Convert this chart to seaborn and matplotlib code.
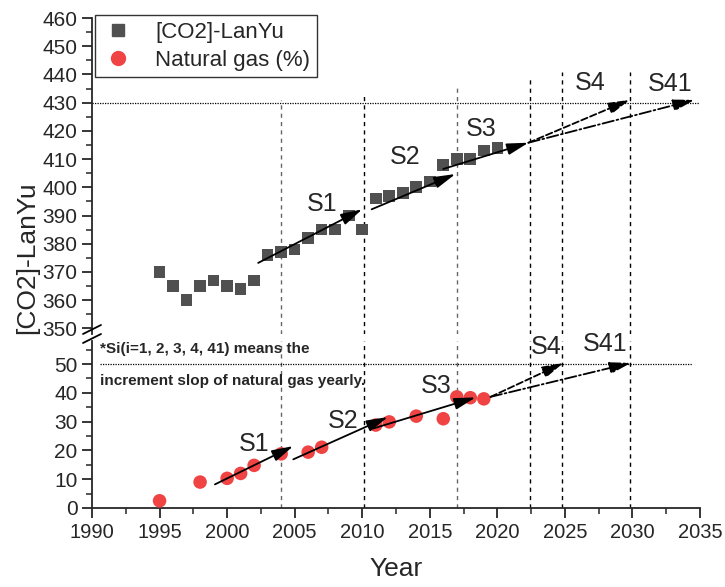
import matplotlib
matplotlib.use("Agg")
import matplotlib.pyplot as plt
from matplotlib.lines import Line2D
from matplotlib.ticker import MultipleLocator
import numpy as np
import pandas as pd
import seaborn as sns

# ── Data ─────────────────────────────────────────────────────
co2_years = [1995, 1996, 1997, 1998, 1999, 2000, 2001, 2002, 2003, 2004,
             2005, 2006, 2007, 2008, 2009, 2010, 2011, 2012, 2013, 2014,
             2015, 2016, 2017, 2018, 2019, 2020]
co2_vals = [370, 365, 360, 365, 367, 365, 364, 367, 376, 377,
            378, 382, 385, 385, 390, 385, 396, 397, 398, 400,
            402, 408, 410, 410, 413, 414]

gas_years = [1995, 1998, 2000, 2001, 2002, 2004, 2006, 2007, 2011, 2012,
             2014, 2016, 2017, 2018, 2019]
gas_vals = [2.5, 9.0, 10.3, 12.0, 14.8, 18.8, 19.4, 21.1, 28.8, 29.9,
            31.9, 31.0, 38.6, 38.3, 37.9]

# trend segments: (label, x0, y0, x1, y1, style)
co2_trends = [
    ("S1", 2002.3, 373.2, 2010.0, 392.2, "-"),
    ("S2", 2010.7, 392.2, 2016.9, 404.7, "-"),
    ("S3", 2016.0, 406.5, 2022.3, 415.8, "-"),
    ("S4", 2022.3, 415.8, 2029.8, 431.0, "--"),
    ("S41", 2022.3, 415.8, 2034.6, 431.0, "-."),
]
gas_trends = [
    ("S1", 1999.1, 8.2, 2004.9, 21.5, "-"),
    ("S2", 2004.9, 16.9, 2011.9, 31.6, "-"),
    ("S3", 2010.8, 27.6, 2018.4, 38.4, "-"),
    ("S4", 2019.5, 38.6, 2024.9, 50.4, "--"),
    ("S41", 2019.5, 38.6, 2029.9, 50.4, "-."),
]
co2_label_pos = [(2007.0, 394.0), (2013.2, 410.6), (2018.8, 420.6), (2026.9, 437.0), (2032.8, 436.6)]
gas_label_pos = [(2002.0, 22.2), (2008.6, 30.2), (2015.5, 42.4), (2023.6, 55.9), (2028.0, 57.0)]

vline_years = [2004, 2010.1, 2017, 2022.4, 2024.8, 2029.8]
vline_tops = [431, 432.7, 436.2, 438.7, 441, 441]
vline_colors = ["#666666", "black", "#666666", "black", "black", "black"]

co2_df = pd.DataFrame({"Year": co2_years, "val": co2_vals})
gas_df = pd.DataFrame({"Year": gas_years, "val": gas_vals})

# ── Style ────────────────────────────────────────────────────
sns.set_style("ticks")
plt.rcParams["font.family"] = ["Liberation Sans", "DejaVu Sans"]
plt.rcParams["xtick.direction"] = "out"
plt.rcParams["ytick.direction"] = "out"

SQ_COLOR = "#505050"
RED = "#f04444"

fig = plt.figure(figsize=(7.25, 5.87), dpi=100)
ax_top = fig.add_axes([0.1269, 0.431, 0.8386, 0.5383])
ax_bot = fig.add_axes([0.1269, 0.1346, 0.8386, 0.2845], sharex=ax_top)

sns.scatterplot(data=co2_df, x="Year", y="val", ax=ax_top, marker="s", s=70,
                color=SQ_COLOR, edgecolor="none", zorder=3)
sns.scatterplot(data=gas_df, x="Year", y="val", ax=ax_bot, marker="o", s=95,
                color=RED, edgecolor="none", zorder=3)

ax_top.set_ylim(348, 460)
ax_bot.set_ylim(0, 58)
ax_bot.set_xlim(1990, 2035)

# reference lines
for xv, top, c in zip(vline_years, vline_tops, vline_colors):
    ax_top.plot([xv, xv], [348, top], color=c, lw=1, ls=(0, (3, 3)), zorder=1)
    ax_bot.axvline(xv, color=c, lw=1, ls=(0, (3, 3)), zorder=1)
ax_top.plot([1990, 2035], [430, 430], color="black", lw=0.9, ls=(0, (1, 1)), zorder=1)
ax_bot.plot([1990.6, 2034.4], [50, 50], color="black", lw=0.9, ls=(0, (1, 1)), zorder=1)


def draw_trends(ax, trends, label_pos):
    for (lab, x0, y0, x1, y1, ls), (tx, ty) in zip(trends, label_pos):
        ax.annotate("", xy=(x1, y1), xytext=(x0, y0),
                    arrowprops=dict(arrowstyle="-|>,head_length=1.3,head_width=0.35",
                                    color="black", lw=1.3, linestyle=ls,
                                    shrinkA=0, shrinkB=0), zorder=4)
        ax.text(tx, ty, lab, fontsize=18, ha="center", va="center", zorder=5)


draw_trends(ax_top, co2_trends, co2_label_pos)
draw_trends(ax_bot, gas_trends, gas_label_pos)

# axes cosmetics
for sp in ["top", "right", "bottom"]:
    ax_top.spines[sp].set_visible(False)
for sp in ["top", "right"]:
    ax_bot.spines[sp].set_visible(False)
for ax in (ax_top, ax_bot):
    ax.spines["left"].set_linewidth(1.3)
    ax.set_facecolor("none")
ax_bot.spines["bottom"].set_linewidth(1.3)

ax_top.tick_params(axis="x", which="both", bottom=False, labelbottom=False)
ax_top.yaxis.set_minor_locator(MultipleLocator(5))
ax_bot.yaxis.set_minor_locator(MultipleLocator(5))
ax_bot.xaxis.set_major_locator(MultipleLocator(5))
ax_bot.xaxis.set_minor_locator(MultipleLocator(2.5))
ax_top.set_yticks(np.arange(350, 461, 10))
ax_bot.set_yticks(np.arange(0, 51, 10))
for ax in (ax_top, ax_bot):
    ax.tick_params(which="major", length=7, width=1.3, labelsize=15)
    ax.tick_params(which="minor", length=4, width=1.1)
ax_bot.tick_params(axis="x", labelsize=14.5)

ax_top.set_xlabel("")
ax_top.set_ylabel("")
ax_bot.set_ylabel("")
ax_bot.set_xlabel("Year", fontsize=19, labelpad=11)
fig.text(0.038, 1 - 258 / 587, "[CO2]-LanYu", rotation=90, fontsize=19,
         ha="center", va="center")

# axis break marks
for y_lo, y_hi in ((334, 325), (343, 334)):
    fig.add_artist(Line2D([83 / 725, 101 / 725], [1 - y_lo / 587, 1 - y_hi / 587],
                          color="black", lw=1.3, transform=fig.transFigure))

# note text
ax_bot.text(0.013, 55.2, "*Si(i=1, 2, 3, 4, 41) means the", transform=ax_bot.get_yaxis_transform(),
            fontsize=11, fontweight="bold", va="center", ha="left")
ax_bot.text(0.013, 44.1, "increment slop of natural gas yearly.", transform=ax_bot.get_yaxis_transform(),
            fontsize=11, fontweight="bold", va="center", ha="left")

# legend
handles = [
    Line2D([], [], marker="s", ls="none", color=SQ_COLOR, markersize=8.5),
    Line2D([], [], marker="o", ls="none", color=RED, markersize=10),
]
leg = ax_top.legend(handles, ["[CO2]-LanYu", "Natural gas (%)"], loc="upper left",
                    bbox_to_anchor=(0.005, 1.008), borderaxespad=0, fontsize=16,
                    frameon=True, fancybox=False, handlelength=1.5, handletextpad=0.9,
                    borderpad=0.3, labelspacing=0.3)
leg.get_frame().set_edgecolor("black")
leg.get_frame().set_linewidth(1.0)

fig.savefig("out.png", dpi=100)
